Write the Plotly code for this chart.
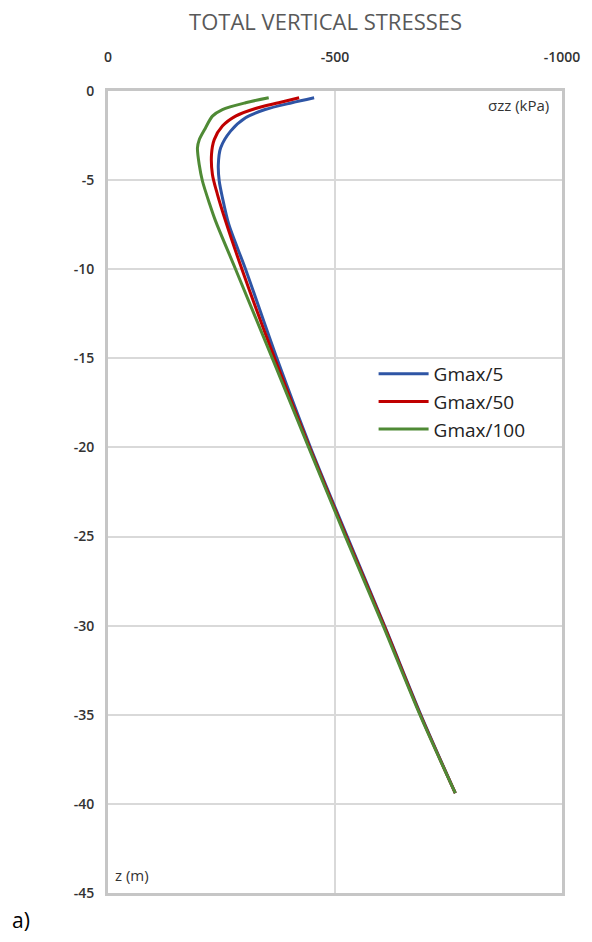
import plotly.graph_objects as go

# Depth (m) and total vertical stress sigma_zz (kPa) for each stiffness case
z_g5 = [-0.38, -0.66, -1.04, -1.5, -2.25, -3.2, -4.14, -5.05, -5.98, -7.48, -10, -15, -20, -25, -30, -35, -39.4]
s_g5 = [-454, -405, -346, -303, -270, -248, -243, -245, -252, -266, -303, -372, -446, -527, -609, -689, -765]

z_g50 = [-0.38, -0.66, -0.98, -1.41, -1.97, -2.73, -3.56, -4.68, -5.8, -7.3, -10, -15, -20, -25, -30, -35, -39.4]
s_g50 = [-421, -376, -325, -281, -252, -234, -228, -230, -241, -259, -295, -367, -444, -525, -608, -688, -765]

z_g100 = [-0.38, -0.66, -1.04, -1.41, -2.06, -2.73, -3.2, -4.14, -5.05, -6.35, -7.3, -10, -15, -20, -25, -30, -35, -39.4]
s_g100 = [-354, -303, -252, -230, -215, -201, -197, -201, -208, -224, -237, -281, -362, -442, -523, -606, -687, -765]

series = [
    ("Gmax/5", s_g5, z_g5, "#2e55a5"),
    ("Gmax/50", s_g50, z_g50, "#c00000"),
    ("Gmax/100", s_g100, z_g100, "#4f8a35"),
]

x_ticks = [0, -500, -1000]
x_labels = ["0", "-500", "-1000"]
y_ticks = [0, -5, -10, -15, -20, -25, -30, -35, -40, -45]
y_labels = ["0", "-5", "-10", "-15", "-20", "-25", "-30", "-35", "-40", "-45"]

fig = go.Figure()
for name, s, z, color in series:
    fig.add_trace(go.Scatter(
        x=s, y=z, name=name, mode="lines",
        line=dict(color=color, width=3, shape="spline", smoothing=0.8),
    ))

tick_font = dict(family="Open Sans", size=14, color="#333333", weight=600)

fig.update_layout(
    width=592, height=942,
    margin=dict(l=108, r=26, t=91, b=49),
    paper_bgcolor="white", plot_bgcolor="white",
    title=dict(text="TOTAL VERTICAL STRESSES", x=0.55, xanchor="center",
               y=0.976, yanchor="middle",
               font=dict(family="Open Sans", size=22, color="#595959")),
    showlegend=True,
    legend=dict(x=0.585, y=0.671, xanchor="left", yanchor="top",
                bgcolor="rgba(0,0,0,0)", tracegroupgap=0, itemwidth=50,
                font=dict(family="Open Sans", size=19, color="#222222")),
    xaxis=dict(range=[0, -1000], tickvals=x_ticks, ticktext=x_labels, side="top",
               showgrid=True, gridcolor="#d9d9d9", gridwidth=2,
               showline=True, linecolor="#c6c6c6", linewidth=3, mirror=True,
               zeroline=False, ticks="", ticklabelstandoff=20, tickfont=tick_font),
    yaxis=dict(range=[-45, 0], tickvals=y_ticks, ticktext=y_labels,
               showgrid=True, gridcolor="#d9d9d9", gridwidth=2,
               showline=True, linecolor="#c6c6c6", linewidth=3, mirror=True,
               zeroline=False, ticks="", ticklabelstandoff=8, tickfont=tick_font),
    annotations=[
        dict(text="σzz (kPa)", xref="paper", yref="paper", x=0.975, y=0.982,
             xanchor="right", yanchor="middle", showarrow=False,
             font=dict(family="Open Sans", size=15, color="#333333")),
        dict(text="z (m)", xref="paper", yref="paper", x=0.012, y=0.022,
             xanchor="left", yanchor="middle", showarrow=False,
             font=dict(family="Open Sans", size=15, color="#333333")),
        dict(text="a)", xref="paper", yref="paper", x=-0.215, y=-0.034,
             xanchor="left", yanchor="middle", showarrow=False,
             font=dict(family="Open Sans", size=21, color="#000000")),
    ],
)

fig.write_html("out.html")
